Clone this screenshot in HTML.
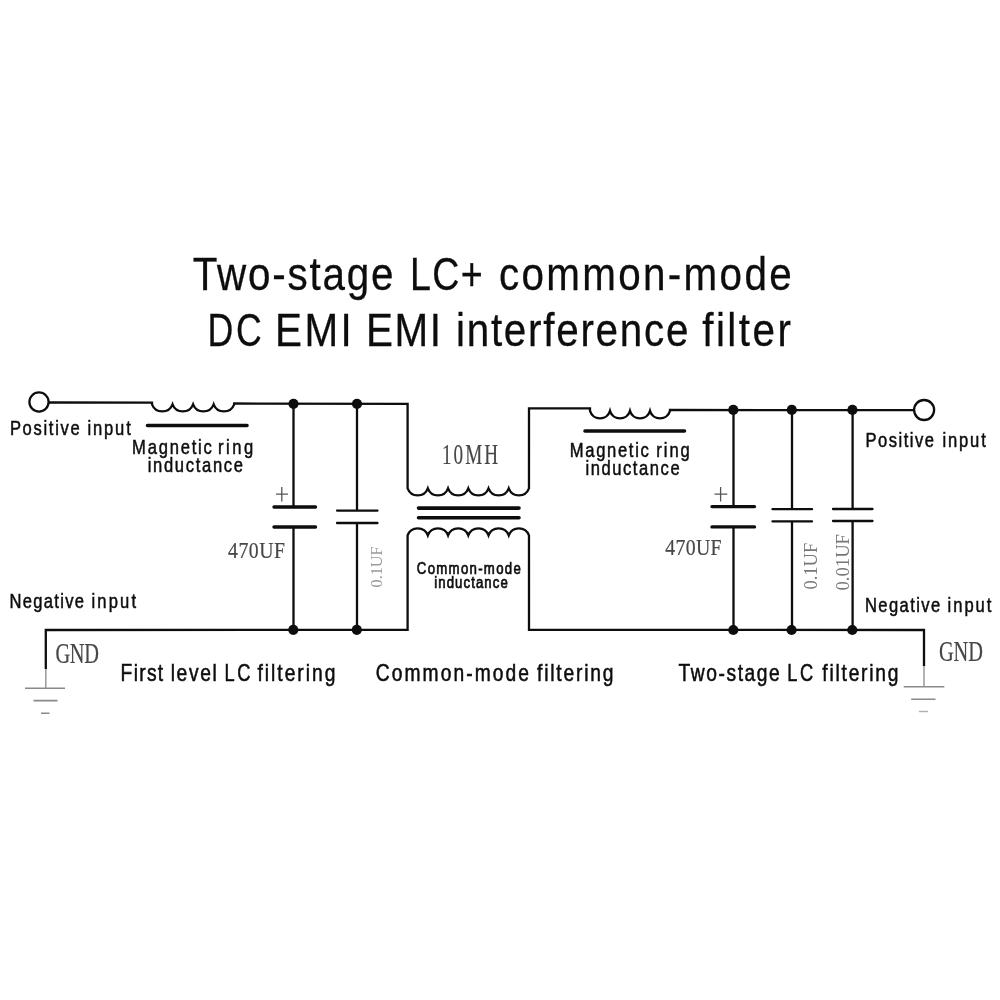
<!DOCTYPE html>
<html><head><meta charset="utf-8"><style>
html,body{margin:0;padding:0;background:#fff;}
svg{display:block;will-change:transform;}
</style></head><body>
<svg width="1000" height="1000" viewBox="0 0 1000 1000">
<rect width="1000" height="1000" fill="#ffffff"/>
<path d="M49,402.5 L152,402.6 L152,404.3 a11.00,11.00 0 0 0 20.55,0 a11.00,11.00 0 0 0 20.55,0 a11.00,11.00 0 0 0 20.55,0 a11.00,11.00 0 0 0 20.55,0 L234.2,403.5 L407.6,403.8 L407.6,488.3 a10.80,10.80 0 0 0 20.23,0 a10.80,10.80 0 0 0 20.23,0 a10.80,10.80 0 0 0 20.23,0 a10.80,10.80 0 0 0 20.23,0 a10.80,10.80 0 0 0 20.23,0 a10.80,10.80 0 0 0 20.23,0 L529,408.4 L590,408.4 L590,410.9 a10.40,10.40 0 0 0 20.00,0 a10.40,10.40 0 0 0 20.00,0 a10.40,10.40 0 0 0 20.00,0 a10.40,10.40 0 0 0 20.00,0 L670,410 L914,410.1" fill="none" stroke="#0d0d0d" stroke-width="2.3" stroke-linejoin="miter" stroke-miterlimit="6"/>
<path d="M45.8,669 L45.8,630 L407.6,629.8 L407.6,535.4 a10.80,10.80 0 0 1 20.23,0 a10.80,10.80 0 0 1 20.23,0 a10.80,10.80 0 0 1 20.23,0 a10.80,10.80 0 0 1 20.23,0 a10.80,10.80 0 0 1 20.23,0 a10.80,10.80 0 0 1 20.23,0 L529,629.8 L924,630 L924,666" fill="none" stroke="#0d0d0d" stroke-width="2.3" stroke-linejoin="miter" stroke-miterlimit="6"/>
<path d="M45.8,669 L45.8,688.3 M924,666 L924,686.8" stroke="#9a9a9a" stroke-width="1.5"/>
<path d="M25,688.3 L65,688.3 M33.5,700.6 L57.5,700.6 M41,713.2 L49.5,713.2 M903.7,686.8 L944.3,686.8 M911.2,699.2 L935.5,699.2" stroke="#8a8a8a" stroke-width="1.6"/>
<path d="M919,711.5 L928,711.5" stroke="#b0b0b0" stroke-width="1.4"/>
<circle cx="39" cy="402" r="9.6" fill="#fff" stroke="#0d0d0d" stroke-width="2.3"/>
<circle cx="924.1" cy="410" r="10" fill="#fff" stroke="#0d0d0d" stroke-width="2.3"/>
<path d="M293.5,403.8 L293.5,507 M293.5,527 L293.5,629.8" stroke="#0d0d0d" stroke-width="2.3"/>
<path d="M274,507 L315.5,507 M274,527 L315.5,527" stroke="#0d0d0d" stroke-width="3.4" stroke-linecap="round"/>
<path d="M357,403.8 L357,510.6 M357,523 L357,629.8" stroke="#0d0d0d" stroke-width="2.3"/>
<path d="M337,510.6 L377.5,510.6 M337,523 L377.5,523" stroke="#0d0d0d" stroke-width="2.3" stroke-linecap="round"/>
<path d="M733.5,410 L733.5,506.6 M733.5,526.9 L733.5,630" stroke="#0d0d0d" stroke-width="2.3"/>
<path d="M712,506.6 L754.5,506.6 M712,526.9 L754.5,526.9" stroke="#0d0d0d" stroke-width="3.4" stroke-linecap="round"/>
<path d="M792,410 L792,509.2 M792,521.4 L792,630" stroke="#0d0d0d" stroke-width="2.3"/>
<path d="M772.5,509.2 L812,509.2 M772.5,521.4 L812,521.4" stroke="#0d0d0d" stroke-width="2.3" stroke-linecap="round"/>
<path d="M852.6,410 L852.6,509 M852.6,521 L852.6,630" stroke="#0d0d0d" stroke-width="2.3"/>
<path d="M833,509 L872.5,509 M833,521 L872.5,521" stroke="#0d0d0d" stroke-width="2.3" stroke-linecap="round"/>
<path d="M147.5,425.5 L247,425.5 M585,431 L684.5,431 M418.5,508.1 L519,508.1 M418.5,517.8 L519,517.8" stroke="#0d0d0d" stroke-width="3.6" stroke-linecap="round"/>
<circle cx="293.5" cy="403.8" r="5.1" fill="#0d0d0d"/>
<circle cx="357" cy="403.8" r="5.1" fill="#0d0d0d"/>
<circle cx="733.3" cy="409.9" r="5.1" fill="#0d0d0d"/>
<circle cx="791.8" cy="409.9" r="5.1" fill="#0d0d0d"/>
<circle cx="852.4" cy="409.9" r="5.1" fill="#0d0d0d"/>
<circle cx="293.3" cy="629.8" r="5.1" fill="#0d0d0d"/>
<circle cx="356.8" cy="629.8" r="5.1" fill="#0d0d0d"/>
<circle cx="733.3" cy="630" r="5.1" fill="#0d0d0d"/>
<circle cx="791.6" cy="630" r="5.1" fill="#0d0d0d"/>
<circle cx="852.3" cy="630" r="5.1" fill="#0d0d0d"/>
<path d="M276,494.1 L288,494.1 M281.8,487 L281.8,501.6 M714.5,494.1 L727.3,494.1 M720.6,487 L720.6,501.6" stroke="#555" stroke-width="1.3"/>
<text transform="translate(192.70,289.6) scale(0.86,1)" font-family="Liberation Sans" font-size="47" fill="#0d0d0d" font-weight="normal" textLength="233.60" lengthAdjust="spacing" stroke="#0d0d0d" stroke-width="0.3">Two-stage</text>
<text transform="translate(409.90,289.6) scale(0.8,1)" font-family="Liberation Sans" font-size="47" fill="#0d0d0d" font-weight="normal" textLength="90.87" lengthAdjust="spacing" stroke="#0d0d0d" stroke-width="0.3">LC+</text>
<text transform="translate(498.90,289.6) scale(0.86,1)" font-family="Liberation Sans" font-size="47" fill="#0d0d0d" font-weight="normal" textLength="340.47" lengthAdjust="spacing" stroke="#0d0d0d" stroke-width="0.3">common-mode</text>
<text transform="translate(207.60,345.6) scale(0.76,1)" font-family="Liberation Sans" font-size="47" fill="#0d0d0d" font-weight="normal" textLength="71.18" lengthAdjust="spacing" stroke="#0d0d0d" stroke-width="0.3">DC</text>
<text transform="translate(275.00,345.6) scale(0.86,1)" font-family="Liberation Sans" font-size="47" fill="#0d0d0d" font-weight="normal" textLength="89.30" lengthAdjust="spacing" stroke="#0d0d0d" stroke-width="0.3">EMI</text>
<text transform="translate(366.00,345.6) scale(0.86,1)" font-family="Liberation Sans" font-size="47" fill="#0d0d0d" font-weight="normal" textLength="87.09" lengthAdjust="spacing" stroke="#0d0d0d" stroke-width="0.3">EMI</text>
<text transform="translate(456.00,345.6) scale(0.86,1)" font-family="Liberation Sans" font-size="47" fill="#0d0d0d" font-weight="normal" textLength="270.23" lengthAdjust="spacing" stroke="#0d0d0d" stroke-width="0.3">interference</text>
<text transform="translate(702.20,345.6) scale(0.86,1)" font-family="Liberation Sans" font-size="47" fill="#0d0d0d" font-weight="normal" textLength="103.26" lengthAdjust="spacing" stroke="#0d0d0d" stroke-width="0.3">filter</text>
<text transform="translate(9.90,434.8) scale(0.85,1)" font-family="Liberation Sans" font-size="19.5" fill="#0d0d0d" font-weight="normal" textLength="82.12" lengthAdjust="spacing" stroke="#0d0d0d" stroke-width="0.5">Positive</text>
<text transform="translate(87.40,434.8) scale(0.85,1)" font-family="Liberation Sans" font-size="19.5" fill="#0d0d0d" font-weight="normal" textLength="51.06" lengthAdjust="spacing" stroke="#0d0d0d" stroke-width="0.5">input</text>
<text transform="translate(132.10,453.8) scale(0.85,1)" font-family="Liberation Sans" font-size="19.5" fill="#0d0d0d" font-weight="normal" textLength="93.76" lengthAdjust="spacing" stroke="#0d0d0d" stroke-width="0.5">Magnetic</text>
<text transform="translate(218.00,453.8) scale(0.85,1)" font-family="Liberation Sans" font-size="19.5" fill="#0d0d0d" font-weight="normal" textLength="41.41" lengthAdjust="spacing" stroke="#0d0d0d" stroke-width="0.5">ring</text>
<text transform="translate(147.70,471.5) scale(0.85,1)" font-family="Liberation Sans" font-size="19.5" fill="#0d0d0d" font-weight="normal" textLength="112.12" lengthAdjust="spacing" stroke="#0d0d0d" stroke-width="0.5">inductance</text>
<text transform="translate(9.60,607.7) scale(0.85,1)" font-family="Liberation Sans" font-size="19.5" fill="#0d0d0d" font-weight="normal" textLength="87.53" lengthAdjust="spacing" stroke="#0d0d0d" stroke-width="0.5">Negative</text>
<text transform="translate(91.50,607.7) scale(0.85,1)" font-family="Liberation Sans" font-size="19.5" fill="#0d0d0d" font-weight="normal" textLength="52.35" lengthAdjust="spacing" stroke="#0d0d0d" stroke-width="0.5">input</text>
<text transform="translate(569.80,457.2) scale(0.85,1)" font-family="Liberation Sans" font-size="19.5" fill="#0d0d0d" font-weight="normal" textLength="92.94" lengthAdjust="spacing" stroke="#0d0d0d" stroke-width="0.5">Magnetic</text>
<text transform="translate(656.30,457.2) scale(0.85,1)" font-family="Liberation Sans" font-size="19.5" fill="#0d0d0d" font-weight="normal" textLength="39.41" lengthAdjust="spacing" stroke="#0d0d0d" stroke-width="0.5">ring</text>
<text transform="translate(585.50,475.0) scale(0.85,1)" font-family="Liberation Sans" font-size="19.5" fill="#0d0d0d" font-weight="normal" textLength="110.71" lengthAdjust="spacing" stroke="#0d0d0d" stroke-width="0.5">inductance</text>
<text transform="translate(865.50,446.9) scale(0.85,1)" font-family="Liberation Sans" font-size="19.5" fill="#0d0d0d" font-weight="normal" textLength="80.59" lengthAdjust="spacing" stroke="#0d0d0d" stroke-width="0.5">Positive</text>
<text transform="translate(942.40,446.9) scale(0.85,1)" font-family="Liberation Sans" font-size="19.5" fill="#0d0d0d" font-weight="normal" textLength="51.06" lengthAdjust="spacing" stroke="#0d0d0d" stroke-width="0.5">input</text>
<text transform="translate(864.90,611.8) scale(0.85,1)" font-family="Liberation Sans" font-size="19.5" fill="#0d0d0d" font-weight="normal" textLength="88.71" lengthAdjust="spacing" stroke="#0d0d0d" stroke-width="0.5">Negative</text>
<text transform="translate(947.60,611.8) scale(0.85,1)" font-family="Liberation Sans" font-size="19.5" fill="#0d0d0d" font-weight="normal" textLength="51.53" lengthAdjust="spacing" stroke="#0d0d0d" stroke-width="0.5">input</text>
<text transform="translate(416.80,574.0) scale(0.8,1)" font-family="Liberation Sans" font-size="16.5" fill="#0d0d0d" font-weight="normal" textLength="130.00" lengthAdjust="spacing" stroke="#0d0d0d" stroke-width="0.7">Common-mode</text>
<text transform="translate(434.20,587.7) scale(0.8,1)" font-family="Liberation Sans" font-size="16.5" fill="#0d0d0d" font-weight="normal" textLength="92.00" lengthAdjust="spacing" stroke="#0d0d0d" stroke-width="0.7">inductance</text>
<text transform="translate(120.60,680.6) scale(0.8,1)" font-family="Liberation Sans" font-size="24" fill="#0d0d0d" font-weight="normal" textLength="53.25" lengthAdjust="spacing" stroke="#0d0d0d" stroke-width="0.55">First</text>
<text transform="translate(170.70,680.6) scale(0.8,1)" font-family="Liberation Sans" font-size="24" fill="#0d0d0d" font-weight="normal" textLength="57.62" lengthAdjust="spacing" stroke="#0d0d0d" stroke-width="0.55">level</text>
<text transform="translate(224.60,680.6) scale(0.76,1)" font-family="Liberation Sans" font-size="24" fill="#0d0d0d" font-weight="normal" textLength="34.08" lengthAdjust="spacing" stroke="#0d0d0d" stroke-width="0.55">LC</text>
<text transform="translate(257.40,680.6) scale(0.8,1)" font-family="Liberation Sans" font-size="24" fill="#0d0d0d" font-weight="normal" textLength="97.50" lengthAdjust="spacing" stroke="#0d0d0d" stroke-width="0.55">filtering</text>
<text transform="translate(375.75,680.6) scale(0.8,1)" font-family="Liberation Sans" font-size="24" fill="#0d0d0d" font-weight="normal" textLength="191.56" lengthAdjust="spacing" stroke="#0d0d0d" stroke-width="0.55">Common-mode</text>
<text transform="translate(537.00,680.6) scale(0.8,1)" font-family="Liberation Sans" font-size="24" fill="#0d0d0d" font-weight="normal" textLength="95.62" lengthAdjust="spacing" stroke="#0d0d0d" stroke-width="0.55">filtering</text>
<text transform="translate(678.60,680.6) scale(0.8,1)" font-family="Liberation Sans" font-size="24" fill="#0d0d0d" font-weight="normal" textLength="126.50" lengthAdjust="spacing" stroke="#0d0d0d" stroke-width="0.55">Two-stage</text>
<text transform="translate(787.20,680.6) scale(0.76,1)" font-family="Liberation Sans" font-size="24" fill="#0d0d0d" font-weight="normal" textLength="34.21" lengthAdjust="spacing" stroke="#0d0d0d" stroke-width="0.55">LC</text>
<text transform="translate(822.30,680.6) scale(0.8,1)" font-family="Liberation Sans" font-size="24" fill="#0d0d0d" font-weight="normal" textLength="95.25" lengthAdjust="spacing" stroke="#0d0d0d" stroke-width="0.55">filtering</text>
<text transform="translate(442.00,463.5) scale(0.65,1)" font-family="Liberation Serif" font-size="29.5" fill="#474747" font-weight="normal" textLength="86.15" lengthAdjust="spacing" stroke="#474747" stroke-width="0.2">10MH</text>
<text transform="translate(228.00,557.8) scale(0.86,1)" font-family="Liberation Serif" font-size="23" fill="#474747" font-weight="normal" textLength="66.28" lengthAdjust="spacing" stroke="#474747" stroke-width="0.2">470UF</text>
<text transform="translate(665.20,555.4) scale(0.86,1)" font-family="Liberation Serif" font-size="23" fill="#474747" font-weight="normal" textLength="65.58" lengthAdjust="spacing" stroke="#474747" stroke-width="0.2">470UF</text>
<text transform="translate(55.40,663.2) scale(0.68,1)" font-family="Liberation Serif" font-size="30" fill="#474747" font-weight="normal" textLength="64.12" lengthAdjust="spacing" stroke="#474747" stroke-width="0.2">GND</text>
<text transform="translate(939.00,661.0) scale(0.68,1)" font-family="Liberation Serif" font-size="30" fill="#474747" font-weight="normal" textLength="64.71" lengthAdjust="spacing" stroke="#474747" stroke-width="0.2">GND</text>
<text transform="translate(382.0,587.5) rotate(-90)" font-family="Liberation Serif" font-size="17.5" fill="#9a9a9a" textLength="41.1" lengthAdjust="spacingAndGlyphs">0.1UF</text>
<text transform="translate(816.6,589.5) rotate(-90)" font-family="Liberation Serif" font-size="18" fill="#777777" textLength="46.7" lengthAdjust="spacingAndGlyphs">0.1UF</text>
<text transform="translate(849.2,590.5) rotate(-90)" font-family="Liberation Serif" font-size="18" fill="#777777" textLength="56.5" lengthAdjust="spacingAndGlyphs">0.01UF</text>
</svg>
</body></html>
